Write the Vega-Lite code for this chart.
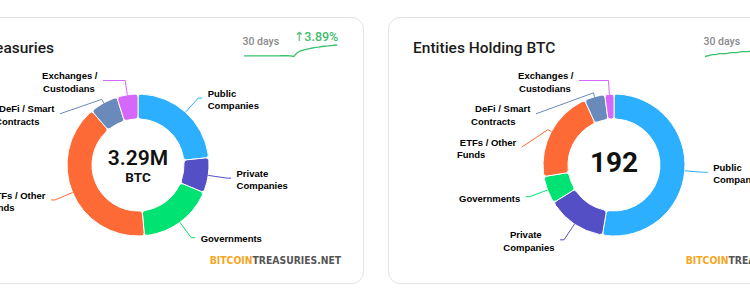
{
  "$schema": "https://vega.github.io/schema/vega-lite/v6.json",
  "background": "#ffffff",
  "padding": {"left": -89, "top": 16, "right": -90, "bottom": 21},
  "spacing": 25,
  "bounds": "flush",
  "config": {
    "view": {"stroke": "#e3e3e3", "strokeWidth": 1, "cornerRadius": 12, "fill": "#ffffff"},
    "axis": {"disable": true},
    "legend": {"disable": true}
  },
  "datasets": {
    "btc": [
      {"cat": "Public Companies", "value": 767700},
      {"cat": "Private Companies", "value": 263200},
      {"cat": "Governments", "value": 566600},
      {"cat": "ETFs / Other Funds", "value": 1322400},
      {"cat": "DeFi / Smart Contracts", "value": 212000},
      {"cat": "Exchanges / Custodians", "value": 158100}
    ],
    "ent": [
      {"cat": "Public Companies", "value": 101},
      {"cat": "Private Companies", "value": 26},
      {"cat": "Governments", "value": 12},
      {"cat": "ETFs / Other Funds", "value": 40},
      {"cat": "DeFi / Smart Contracts", "value": 9},
      {"cat": "Exchanges / Custodians", "value": 4}
    ],
    "sparkBtc": [
      {"day": 0, "value": 3166800}, {"day": 1, "value": 3167000}, {"day": 2, "value": 3167100},
      {"day": 3, "value": 3167100}, {"day": 4, "value": 3167300}, {"day": 5, "value": 3167500},
      {"day": 6, "value": 3167500}, {"day": 7, "value": 3167700}, {"day": 8, "value": 3167800},
      {"day": 9, "value": 3168000}, {"day": 10, "value": 3168000}, {"day": 11, "value": 3168200},
      {"day": 12, "value": 3168300}, {"day": 13, "value": 3168500}, {"day": 14, "value": 3168600},
      {"day": 15, "value": 3168000}, {"day": 16, "value": 3160000}, {"day": 17, "value": 3200000},
      {"day": 18, "value": 3222000}, {"day": 19, "value": 3233000}, {"day": 20, "value": 3241000},
      {"day": 21, "value": 3249000}, {"day": 22, "value": 3256000}, {"day": 23, "value": 3264000},
      {"day": 24, "value": 3267000}, {"day": 25, "value": 3273000}, {"day": 26, "value": 3276000},
      {"day": 27, "value": 3279000}, {"day": 28, "value": 3283000}, {"day": 29, "value": 3287000},
      {"day": 30, "value": 3290000}
    ],
    "sparkEnt": [
      {"day": 0, "value": 180}, {"day": 1, "value": 181}, {"day": 2, "value": 182},
      {"day": 3, "value": 182}, {"day": 4, "value": 183}, {"day": 5, "value": 183},
      {"day": 6, "value": 183}, {"day": 7, "value": 184}, {"day": 8, "value": 184},
      {"day": 9, "value": 184}, {"day": 10, "value": 185}, {"day": 11, "value": 185},
      {"day": 12, "value": 185}, {"day": 13, "value": 186}, {"day": 14, "value": 186},
      {"day": 15, "value": 186}, {"day": 16, "value": 187}, {"day": 17, "value": 187},
      {"day": 18, "value": 187}, {"day": 19, "value": 188}, {"day": 20, "value": 188},
      {"day": 21, "value": 188}, {"day": 22, "value": 189}, {"day": 23, "value": 189},
      {"day": 24, "value": 190}, {"day": 25, "value": 190}, {"day": 26, "value": 190},
      {"day": 27, "value": 191}, {"day": 28, "value": 191}, {"day": 29, "value": 192},
      {"day": 30, "value": 192}
    ]
  },
  "hconcat": [
    {
      "width": 451,
      "height": 266,
      "title": {"text": "Bitcoin Treasuries", "anchor": "start", "frame": "group", "dx": 17, "offset": -51.5, "baseline": "alphabetic", "font": "Roboto", "fontSize": 15.5, "fontWeight": 500, "color": "#1b1b1b"},
      "layer": [
        {
          "data": {"name": "btc"},
          "transform": [
            {"window": [{"op": "row_number", "as": "idx"}]},
            {"joinaggregate": [{"op": "sum", "field": "value", "as": "total"}]},
            {"window": [{"op": "sum", "field": "value", "as": "cum"}], "sort": [{"field": "idx", "order": "ascending"}], "frame": [null, 0]},
            {"calculate": "PI * (2 * datum.cum - datum.value) / datum.total", "as": "a"},
            {"calculate": "datum.a > PI ? -1 : 1", "as": "sgn"},
            {"calculate": "-90 * cos(datum.a)", "as": "ny0"},
            {"calculate": "max(datum.ny0, -84.5)", "as": "ny"},
            {"window": [{"op": "row_number", "as": "k"}], "groupby": ["sgn"], "sort": [{"field": "ny0", "order": "ascending"}]},
            {"calculate": "datum.ny - 33.3 * datum.k", "as": "t"},
            {"window": [{"op": "max", "field": "t", "as": "tm"}], "groupby": ["sgn"], "sort": [{"field": "ny0", "order": "ascending"}], "frame": [null, 0]},
            {"calculate": "datum.tm + 33.3 * datum.k", "as": "ly"},
            {"calculate": "sqrt(max(0, 8100 - datum.ly * datum.ly))", "as": "cxl"},
            {"calculate": "datum.sgn * (datum.cxl + 4)", "as": "ex"},
            {"calculate": "datum.sgn * (datum.cxl + 9.5)", "as": "lx"},
            {"calculate": "71 * sin(datum.a)", "as": "tx"},
            {"calculate": "-71 * cos(datum.a)", "as": "ty"},
            {"calculate": "75 * sin(datum.a)", "as": "bx"},
            {"calculate": "-75 * cos(datum.a)", "as": "by"},
            {"calculate": "abs(cos(datum.a)) > 0.01 ? -datum.ly / cos(datum.a) : -1", "as": "rr"},
            {"calculate": "datum.rr * sin(datum.a)", "as": "crx"},
            {"calculate": "datum.rr > 75 && datum.sgn * datum.crx <= datum.sgn * datum.ex", "as": "ok"},
            {"calculate": "datum.ok ? datum.crx : datum.bx", "as": "kx"},
            {"calculate": "datum.ok ? datum.ly : datum.by", "as": "ky"}
          ],
          "layer": [
            {
              "mark": {"type": "arc", "innerRadius": 46, "outerRadius": 71, "stroke": "#ffffff", "strokeWidth": 1, "cornerRadius": 3},
              "encoding": {
                "theta": {"field": "value", "type": "quantitative", "stack": true},
                "order": {"field": "idx", "type": "quantitative"},
                "color": {"field": "cat", "type": "nominal", "legend": null, "scale": {"domain": ["Public Companies", "Private Companies", "Governments", "ETFs / Other Funds", "DeFi / Smart Contracts", "Exchanges / Custodians"], "range": ["#2caffe", "#544fc5", "#00e272", "#fe6a35", "#6b8abc", "#d568fb"]}},
                "x": {"datum": 0, "type": "quantitative", "axis": null, "scale": {"domain": [-226, 225], "nice": false, "zero": false}},
                "y": {"datum": 0, "type": "quantitative", "axis": null, "scale": {"domain": [-148, 118], "reverse": true, "nice": false, "zero": false}}
              }
            },
            {
              "mark": {"type": "rule", "strokeWidth": 1},
              "encoding": {
                "x": {"field": "ex", "type": "quantitative", "scale": {"domain": [-226, 225], "nice": false, "zero": false}},
                "y": {"field": "ly", "type": "quantitative", "scale": {"domain": [-148, 118], "reverse": true, "nice": false, "zero": false}},
                "x2": {"field": "kx"},
                "y2": {"field": "ky"},
                "color": {"field": "cat", "type": "nominal", "legend": null}
              }
            },
            {
              "mark": {"type": "rule", "strokeWidth": 1},
              "encoding": {
                "x": {"field": "kx", "type": "quantitative", "scale": {"domain": [-226, 225], "nice": false, "zero": false}},
                "y": {"field": "ky", "type": "quantitative", "scale": {"domain": [-148, 118], "reverse": true, "nice": false, "zero": false}},
                "x2": {"field": "bx"},
                "y2": {"field": "by"},
                "color": {"field": "cat", "type": "nominal", "legend": null}
              }
            },
            {
              "mark": {"type": "rule", "strokeWidth": 1},
              "encoding": {
                "x": {"field": "bx", "type": "quantitative", "scale": {"domain": [-226, 225], "nice": false, "zero": false}},
                "y": {"field": "by", "type": "quantitative", "scale": {"domain": [-148, 118], "reverse": true, "nice": false, "zero": false}},
                "x2": {"field": "tx"},
                "y2": {"field": "ty"},
                "color": {"field": "cat", "type": "nominal", "legend": null}
              }
            },
            {
              "transform": [
                {"calculate": "indexof(datum.cat, ' ') >= 0 ? [slice(datum.cat, 0, lastindexof(datum.cat, ' ')), slice(datum.cat, lastindexof(datum.cat, ' ') + 1)] : [datum.cat]", "as": "lines"},
                {"calculate": "length(datum.lines)", "as": "nl"},
                {"flatten": ["lines"], "as": ["line"]},
                {"window": [{"op": "row_number", "as": "li"}], "groupby": ["cat"]},
                {"calculate": "length(datum.line)", "as": "llen"},
                {"joinaggregate": [{"op": "max", "field": "llen", "as": "mlen"}], "groupby": ["cat"]},
                {"calculate": "datum.ly + 1.8 + (datum.li - 1 - (datum.nl - 1) / 2) * 12.4", "as": "liney"},
                {"calculate": "datum.sgn > 0 ? datum.lx : datum.lx - datum.mlen * 4.95", "as": "lxl"},
                {"filter": "datum.sgn > 0 || datum.llen < datum.mlen"}
              ],
              "mark": {"type": "text", "align": "left", "baseline": "middle", "font": "Liberation Sans", "fontSize": 9.5, "fontWeight": "bold", "color": "#000000"},
              "encoding": {
                "x": {"field": "lxl", "type": "quantitative", "scale": {"domain": [-226, 225], "nice": false, "zero": false}},
                "y": {"field": "liney", "type": "quantitative", "scale": {"domain": [-148, 118], "reverse": true, "nice": false, "zero": false}},
                "text": {"field": "line"}
              }
            },
            {
              "transform": [
                {"calculate": "indexof(datum.cat, ' ') >= 0 ? [slice(datum.cat, 0, lastindexof(datum.cat, ' ')), slice(datum.cat, lastindexof(datum.cat, ' ') + 1)] : [datum.cat]", "as": "lines"},
                {"calculate": "length(datum.lines)", "as": "nl"},
                {"flatten": ["lines"], "as": ["line"]},
                {"window": [{"op": "row_number", "as": "li"}], "groupby": ["cat"]},
                {"calculate": "length(datum.line)", "as": "llen"},
                {"joinaggregate": [{"op": "max", "field": "llen", "as": "mlen"}], "groupby": ["cat"]},
                {"calculate": "datum.ly + 1.8 + (datum.li - 1 - (datum.nl - 1) / 2) * 12.4", "as": "liney"},
                {"filter": "datum.sgn < 0 && datum.llen == datum.mlen"}
              ],
              "mark": {"type": "text", "align": "right", "baseline": "middle", "font": "Liberation Sans", "fontSize": 9.5, "fontWeight": "bold", "color": "#000000"},
              "encoding": {
                "x": {"field": "lx", "type": "quantitative", "scale": {"domain": [-226, 225], "nice": false, "zero": false}},
                "y": {"field": "liney", "type": "quantitative", "scale": {"domain": [-148, 118], "reverse": true, "nice": false, "zero": false}},
                "text": {"field": "line"}
              }
            },
            {
              "transform": [{"aggregate": [{"op": "sum", "field": "value", "as": "tot"}]}],
              "mark": {"type": "text", "align": "center", "baseline": "middle", "dy": -6, "font": "Roboto", "fontSize": 21, "fontWeight": 600, "color": "#111111"},
              "encoding": {
                "x": {"datum": 0, "type": "quantitative", "scale": {"domain": [-226, 225], "nice": false, "zero": false}},
                "y": {"datum": 0, "type": "quantitative", "scale": {"domain": [-148, 118], "reverse": true, "nice": false, "zero": false}},
                "text": {"field": "tot", "type": "quantitative", "format": ".3s"}
              }
            },
            {
              "transform": [{"aggregate": [{"op": "sum", "field": "value", "as": "tot"}]}],
              "mark": {"type": "text", "align": "center", "baseline": "middle", "dy": 13, "font": "Roboto", "fontSize": 13.5, "fontWeight": 700, "color": "#111111"},
              "encoding": {
                "x": {"datum": 0, "type": "quantitative", "scale": {"domain": [-226, 225], "nice": false, "zero": false}},
                "y": {"datum": 0, "type": "quantitative", "scale": {"domain": [-148, 118], "reverse": true, "nice": false, "zero": false}},
                "text": {"value": "BTC"}
              }
            },
            {
              "data": {"values": [{}]},
              "mark": {"type": "text", "align": "right", "baseline": "middle", "font": "DejaVu Sans Condensed", "fontSize": 10.3, "fontWeight": "bold", "color": "#f5a623"},
              "encoding": {
                "x": {"datum": 114.5, "type": "quantitative", "scale": {"domain": [-226, 225], "nice": false, "zero": false}},
                "y": {"datum": 95.5, "type": "quantitative", "scale": {"domain": [-148, 118], "reverse": true, "nice": false, "zero": false}},
                "text": {"value": "BITCOIN"}
              }
            },
            {
              "data": {"values": [{}]},
              "mark": {"type": "text", "align": "left", "baseline": "middle", "font": "DejaVu Sans Condensed", "fontSize": 10.3, "fontWeight": "bold", "color": "#555555"},
              "encoding": {
                "x": {"datum": 114.5, "type": "quantitative", "scale": {"domain": [-226, 225], "nice": false, "zero": false}},
                "y": {"datum": 95.5, "type": "quantitative", "scale": {"domain": [-148, 118], "reverse": true, "nice": false, "zero": false}},
                "text": {"value": "TREASURIES.NET"}
              }
            }
          ]
        },
        {
          "data": {"name": "sparkBtc"},
          "layer": [
            {
              "mark": {"type": "line", "color": "#38c26b", "strokeWidth": 1.3},
              "encoding": {
                "x": {"field": "day", "type": "quantitative", "scale": {"domain": [0, 30], "range": [332, 425.3], "nice": false, "zero": false}},
                "y": {"field": "value", "type": "quantitative", "scale": {"range": [39.5, 28], "nice": false, "zero": false}}
              }
            },
            {
              "transform": [
                {"joinaggregate": [{"op": "max", "field": "value", "as": "vmax"}]},
                {"filter": "datum.day == 0"}
              ],
              "mark": {"type": "text", "align": "left", "baseline": "middle", "dx": -1.5, "dy": -3.5, "font": "Roboto", "fontSize": 10.5, "fontWeight": 500, "color": "#8a8a8a"},
              "encoding": {
                "x": {"field": "day", "type": "quantitative", "scale": {"domain": [0, 30], "range": [332, 425.3], "nice": false, "zero": false}},
                "y": {"field": "vmax", "type": "quantitative", "scale": {"range": [39.5, 28], "nice": false, "zero": false}},
                "text": {"value": "30 days"}
              }
            },
            {
              "transform": [
                {"joinaggregate": [{"op": "max", "field": "value", "as": "vmax"}]},
                {"window": [{"op": "first_value", "field": "value", "as": "v0"}], "sort": [{"field": "day", "order": "ascending"}], "frame": [null, 0]},
                {"filter": "datum.day == 30"},
                {"calculate": "'↑' + format(datum.value / datum.v0 - 1, '.2%')", "as": "pct"}
              ],
              "mark": {"type": "text", "align": "right", "baseline": "middle", "dx": 1, "dy": -8, "font": "Roboto, DejaVu Sans", "fontSize": 12.5, "fontWeight": 500, "color": "#3fbe6d"},
              "encoding": {
                "x": {"field": "day", "type": "quantitative", "scale": {"domain": [0, 30], "range": [332, 425.3], "nice": false, "zero": false}},
                "y": {"field": "vmax", "type": "quantitative", "scale": {"range": [39.5, 28], "nice": false, "zero": false}},
                "text": {"field": "pct"}
              }
            }
          ]
        }
      ],
      "resolve": {"scale": {"x": "independent", "y": "independent"}}
    },
    {
      "width": 451,
      "height": 266,
      "title": {"text": "Entities Holding BTC", "anchor": "start", "frame": "group", "dx": 25, "offset": -51.5, "baseline": "alphabetic", "font": "Roboto", "fontSize": 15.5, "fontWeight": 500, "color": "#1b1b1b"},
      "layer": [
        {
          "data": {"name": "ent"},
          "transform": [
            {"window": [{"op": "row_number", "as": "idx"}]},
            {"joinaggregate": [{"op": "sum", "field": "value", "as": "total"}]},
            {"window": [{"op": "sum", "field": "value", "as": "cum"}], "sort": [{"field": "idx", "order": "ascending"}], "frame": [null, 0]},
            {"calculate": "PI * (2 * datum.cum - datum.value) / datum.total", "as": "a"},
            {"calculate": "datum.a > PI ? -1 : 1", "as": "sgn"},
            {"calculate": "-90 * cos(datum.a)", "as": "ny0"},
            {"calculate": "max(datum.ny0, -84.5)", "as": "ny"},
            {"window": [{"op": "row_number", "as": "k"}], "groupby": ["sgn"], "sort": [{"field": "ny0", "order": "ascending"}]},
            {"calculate": "datum.ny - 33.3 * datum.k", "as": "t"},
            {"window": [{"op": "max", "field": "t", "as": "tm"}], "groupby": ["sgn"], "sort": [{"field": "ny0", "order": "ascending"}], "frame": [null, 0]},
            {"calculate": "datum.tm + 33.3 * datum.k", "as": "ly"},
            {"calculate": "sqrt(max(0, 8100 - datum.ly * datum.ly))", "as": "cxl"},
            {"calculate": "datum.sgn * (datum.cxl + 4)", "as": "ex"},
            {"calculate": "datum.sgn * (datum.cxl + 9.5)", "as": "lx"},
            {"calculate": "71 * sin(datum.a)", "as": "tx"},
            {"calculate": "-71 * cos(datum.a)", "as": "ty"},
            {"calculate": "75 * sin(datum.a)", "as": "bx"},
            {"calculate": "-75 * cos(datum.a)", "as": "by"},
            {"calculate": "abs(cos(datum.a)) > 0.01 ? -datum.ly / cos(datum.a) : -1", "as": "rr"},
            {"calculate": "datum.rr * sin(datum.a)", "as": "crx"},
            {"calculate": "datum.rr > 75 && datum.sgn * datum.crx <= datum.sgn * datum.ex", "as": "ok"},
            {"calculate": "datum.ok ? datum.crx : datum.bx", "as": "kx"},
            {"calculate": "datum.ok ? datum.ly : datum.by", "as": "ky"}
          ],
          "layer": [
            {
              "mark": {"type": "arc", "innerRadius": 46, "outerRadius": 71, "stroke": "#ffffff", "strokeWidth": 1, "cornerRadius": 3},
              "encoding": {
                "theta": {"field": "value", "type": "quantitative", "stack": true},
                "order": {"field": "idx", "type": "quantitative"},
                "color": {"field": "cat", "type": "nominal", "legend": null, "scale": {"domain": ["Public Companies", "Private Companies", "Governments", "ETFs / Other Funds", "DeFi / Smart Contracts", "Exchanges / Custodians"], "range": ["#2caffe", "#544fc5", "#00e272", "#fe6a35", "#6b8abc", "#d568fb"]}},
                "x": {"datum": 0, "type": "quantitative", "axis": null, "scale": {"domain": [-226, 225], "nice": false, "zero": false}},
                "y": {"datum": 0, "type": "quantitative", "axis": null, "scale": {"domain": [-148, 118], "reverse": true, "nice": false, "zero": false}}
              }
            },
            {
              "mark": {"type": "rule", "strokeWidth": 1},
              "encoding": {
                "x": {"field": "ex", "type": "quantitative", "scale": {"domain": [-226, 225], "nice": false, "zero": false}},
                "y": {"field": "ly", "type": "quantitative", "scale": {"domain": [-148, 118], "reverse": true, "nice": false, "zero": false}},
                "x2": {"field": "kx"},
                "y2": {"field": "ky"},
                "color": {"field": "cat", "type": "nominal", "legend": null}
              }
            },
            {
              "mark": {"type": "rule", "strokeWidth": 1},
              "encoding": {
                "x": {"field": "kx", "type": "quantitative", "scale": {"domain": [-226, 225], "nice": false, "zero": false}},
                "y": {"field": "ky", "type": "quantitative", "scale": {"domain": [-148, 118], "reverse": true, "nice": false, "zero": false}},
                "x2": {"field": "bx"},
                "y2": {"field": "by"},
                "color": {"field": "cat", "type": "nominal", "legend": null}
              }
            },
            {
              "mark": {"type": "rule", "strokeWidth": 1},
              "encoding": {
                "x": {"field": "bx", "type": "quantitative", "scale": {"domain": [-226, 225], "nice": false, "zero": false}},
                "y": {"field": "by", "type": "quantitative", "scale": {"domain": [-148, 118], "reverse": true, "nice": false, "zero": false}},
                "x2": {"field": "tx"},
                "y2": {"field": "ty"},
                "color": {"field": "cat", "type": "nominal", "legend": null}
              }
            },
            {
              "transform": [
                {"calculate": "indexof(datum.cat, ' ') >= 0 ? [slice(datum.cat, 0, lastindexof(datum.cat, ' ')), slice(datum.cat, lastindexof(datum.cat, ' ') + 1)] : [datum.cat]", "as": "lines"},
                {"calculate": "length(datum.lines)", "as": "nl"},
                {"flatten": ["lines"], "as": ["line"]},
                {"window": [{"op": "row_number", "as": "li"}], "groupby": ["cat"]},
                {"calculate": "length(datum.line)", "as": "llen"},
                {"joinaggregate": [{"op": "max", "field": "llen", "as": "mlen"}], "groupby": ["cat"]},
                {"calculate": "datum.ly + 1.8 + (datum.li - 1 - (datum.nl - 1) / 2) * 12.4", "as": "liney"},
                {"calculate": "datum.sgn > 0 ? datum.lx : datum.lx - datum.mlen * 4.95", "as": "lxl"},
                {"filter": "datum.sgn > 0 || datum.llen < datum.mlen"}
              ],
              "mark": {"type": "text", "align": "left", "baseline": "middle", "font": "Liberation Sans", "fontSize": 9.5, "fontWeight": "bold", "color": "#000000"},
              "encoding": {
                "x": {"field": "lxl", "type": "quantitative", "scale": {"domain": [-226, 225], "nice": false, "zero": false}},
                "y": {"field": "liney", "type": "quantitative", "scale": {"domain": [-148, 118], "reverse": true, "nice": false, "zero": false}},
                "text": {"field": "line"}
              }
            },
            {
              "transform": [
                {"calculate": "indexof(datum.cat, ' ') >= 0 ? [slice(datum.cat, 0, lastindexof(datum.cat, ' ')), slice(datum.cat, lastindexof(datum.cat, ' ') + 1)] : [datum.cat]", "as": "lines"},
                {"calculate": "length(datum.lines)", "as": "nl"},
                {"flatten": ["lines"], "as": ["line"]},
                {"window": [{"op": "row_number", "as": "li"}], "groupby": ["cat"]},
                {"calculate": "length(datum.line)", "as": "llen"},
                {"joinaggregate": [{"op": "max", "field": "llen", "as": "mlen"}], "groupby": ["cat"]},
                {"calculate": "datum.ly + 1.8 + (datum.li - 1 - (datum.nl - 1) / 2) * 12.4", "as": "liney"},
                {"filter": "datum.sgn < 0 && datum.llen == datum.mlen"}
              ],
              "mark": {"type": "text", "align": "right", "baseline": "middle", "font": "Liberation Sans", "fontSize": 9.5, "fontWeight": "bold", "color": "#000000"},
              "encoding": {
                "x": {"field": "lx", "type": "quantitative", "scale": {"domain": [-226, 225], "nice": false, "zero": false}},
                "y": {"field": "liney", "type": "quantitative", "scale": {"domain": [-148, 118], "reverse": true, "nice": false, "zero": false}},
                "text": {"field": "line"}
              }
            },
            {
              "transform": [{"aggregate": [{"op": "sum", "field": "value", "as": "tot"}]}],
              "mark": {"type": "text", "align": "center", "baseline": "middle", "dy": -1, "font": "Roboto", "fontSize": 28, "fontWeight": 700, "color": "#111111"},
              "encoding": {
                "x": {"datum": 0, "type": "quantitative", "scale": {"domain": [-226, 225], "nice": false, "zero": false}},
                "y": {"datum": 0, "type": "quantitative", "scale": {"domain": [-148, 118], "reverse": true, "nice": false, "zero": false}},
                "text": {"field": "tot", "type": "quantitative", "format": "d"}
              }
            },
            {
              "data": {"values": [{}]},
              "mark": {"type": "text", "align": "right", "baseline": "middle", "font": "DejaVu Sans Condensed", "fontSize": 10.3, "fontWeight": "bold", "color": "#f5a623"},
              "encoding": {
                "x": {"datum": 114.5, "type": "quantitative", "scale": {"domain": [-226, 225], "nice": false, "zero": false}},
                "y": {"datum": 95.5, "type": "quantitative", "scale": {"domain": [-148, 118], "reverse": true, "nice": false, "zero": false}},
                "text": {"value": "BITCOIN"}
              }
            },
            {
              "data": {"values": [{}]},
              "mark": {"type": "text", "align": "left", "baseline": "middle", "font": "DejaVu Sans Condensed", "fontSize": 10.3, "fontWeight": "bold", "color": "#555555"},
              "encoding": {
                "x": {"datum": 114.5, "type": "quantitative", "scale": {"domain": [-226, 225], "nice": false, "zero": false}},
                "y": {"datum": 95.5, "type": "quantitative", "scale": {"domain": [-148, 118], "reverse": true, "nice": false, "zero": false}},
                "text": {"value": "TREASURIES.NET"}
              }
            }
          ]
        },
        {
          "data": {"name": "sparkEnt"},
          "layer": [
            {
              "mark": {"type": "line", "color": "#38c26b", "strokeWidth": 1.3},
              "encoding": {
                "x": {"field": "day", "type": "quantitative", "scale": {"domain": [0, 30], "range": [317, 425], "nice": false, "zero": false}},
                "y": {"field": "value", "type": "quantitative", "scale": {"range": [39.5, 28], "nice": false, "zero": false}}
              }
            },
            {
              "transform": [
                {"joinaggregate": [{"op": "max", "field": "value", "as": "vmax"}]},
                {"filter": "datum.day == 0"}
              ],
              "mark": {"type": "text", "align": "left", "baseline": "middle", "dx": -1.5, "dy": -3.5, "font": "Roboto", "fontSize": 10.5, "fontWeight": 500, "color": "#8a8a8a"},
              "encoding": {
                "x": {"field": "day", "type": "quantitative", "scale": {"domain": [0, 30], "range": [317, 425], "nice": false, "zero": false}},
                "y": {"field": "vmax", "type": "quantitative", "scale": {"range": [39.5, 28], "nice": false, "zero": false}},
                "text": {"value": "30 days"}
              }
            },
            {
              "transform": [
                {"joinaggregate": [{"op": "max", "field": "value", "as": "vmax"}]},
                {"window": [{"op": "first_value", "field": "value", "as": "v0"}], "sort": [{"field": "day", "order": "ascending"}], "frame": [null, 0]},
                {"filter": "datum.day == 30"},
                {"calculate": "'↑' + format(datum.value / datum.v0 - 1, '.2%')", "as": "pct"}
              ],
              "mark": {"type": "text", "align": "right", "baseline": "middle", "dx": 1, "dy": -8, "font": "Roboto, DejaVu Sans", "fontSize": 12.5, "fontWeight": 500, "color": "#3fbe6d"},
              "encoding": {
                "x": {"field": "day", "type": "quantitative", "scale": {"domain": [0, 30], "range": [317, 425], "nice": false, "zero": false}},
                "y": {"field": "vmax", "type": "quantitative", "scale": {"range": [39.5, 28], "nice": false, "zero": false}},
                "text": {"field": "pct"}
              }
            }
          ]
        }
      ],
      "resolve": {"scale": {"x": "independent", "y": "independent"}}
    }
  ]
}
